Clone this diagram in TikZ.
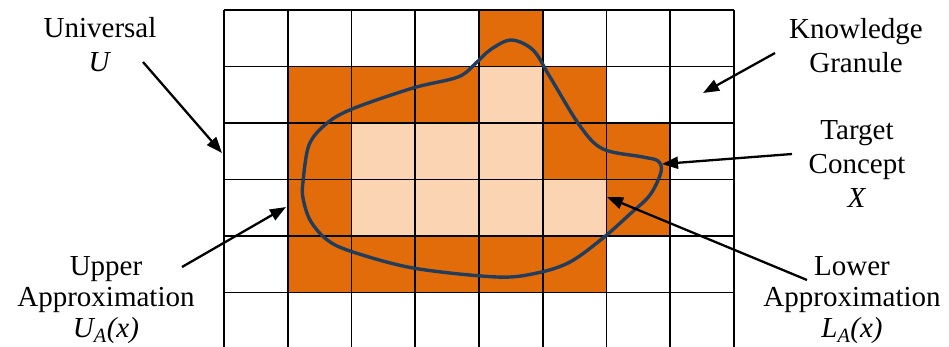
\documentclass[tikz,border=0pt]{standalone}
\usepackage{fontspec}
\setmainfont{Liberation Serif}
\usetikzlibrary{arrows.meta}
\definecolor{darkor}{HTML}{E36C0A}
\definecolor{lightor}{HTML}{FBD4B4}
\definecolor{navy}{HTML}{223D5C}
\tikzset{
  darkcell/.style={fill=darkor},
  lightcell/.style={fill=lightor},
  gridline/.style={line width=1.9pt, black},
  conceptcurve/.style={line width=3.4pt, navy},
  pointer/.style={line width=2.3pt, black, -{Triangle[length=16pt,width=12pt]}},
  lbl/.style={align=center, inner sep=0pt, font=\fontsize{29}{34}\selectfont},
  lblb/.style={align=center, inner sep=0pt, font=\fontsize{29}{31}\selectfont}
}
\newcommand{\cellfill}[3]{\fill[#3] ({224+#1*63.75},{10+#2*56.5}) rectangle ({224+(#1+1)*63.75},{10+(#2+1)*56.5});}
\begin{document}
\begin{tikzpicture}[x=1pt,y=-1pt]
\useasboundingbox (0,0) rectangle (949,346);
\fill[white] (0,0) rectangle (949,346);
% row 0
\cellfill{4}{0}{darkcell}
% row 1
\cellfill{1}{1}{darkcell}\cellfill{2}{1}{darkcell}\cellfill{3}{1}{darkcell}
\cellfill{4}{1}{lightcell}\cellfill{5}{1}{darkcell}
% row 2
\cellfill{1}{2}{darkcell}\cellfill{2}{2}{lightcell}\cellfill{3}{2}{lightcell}
\cellfill{4}{2}{lightcell}\cellfill{5}{2}{darkcell}\cellfill{6}{2}{darkcell}
% row 3
\cellfill{1}{3}{darkcell}\cellfill{2}{3}{lightcell}\cellfill{3}{3}{lightcell}
\cellfill{4}{3}{lightcell}\cellfill{5}{3}{lightcell}\cellfill{6}{3}{darkcell}
% row 4
\cellfill{1}{4}{darkcell}\cellfill{2}{4}{darkcell}\cellfill{3}{4}{darkcell}
\cellfill{4}{4}{darkcell}\cellfill{5}{4}{darkcell}
% grid lines
\foreach \i in {0,...,8} {\draw[gridline] ({224+\i*63.75},10) -- ({224+\i*63.75},350);}
\foreach \j in {0,...,5} {\draw[gridline] (224,{10+\j*56.5}) -- (734,{10+\j*56.5});}
% target concept curve
\draw[conceptcurve] plot[smooth cycle, tension=0.55] coordinates {
(303,182) (309,145) (326,124) (352,109) (413,88) (458,77) (476,63) (490,50)
(511,40) (533,50) (550,77) (580,126) (603,149) (643,157) (658,161) (661,172)
(650,195) (630,214) (603,238) (570,262) (537,273) (497,277) (413,268) (350,251)
(326,239) (310,220) (303,198)};
% labels
\node[lbl] (univ) at (100,45) {Universal\\\textit{U}};
\node[lbl] (know) at (856,46) {Knowledge\\Granule};
\node[lbl] (target) at (857,164) {Target\\Concept\\\textit{X}};
\node[lblb] (upper) at (106,300) {Upper\\Approximation\\\textit{U\textsubscript{A}(x)}};
\node[lblb] (lower) at (852,300) {Lower\\Approximation\\\textit{L\textsubscript{A}(x)}};
% arrow endpoints
\coordinate (uS) at (143,62);  \coordinate (uT) at (222,153);
\coordinate (kS) at (775,53);  \coordinate (kT) at (703,93);
\coordinate (tS) at (792,154); \coordinate (tT) at (662,164);
\coordinate (lS) at (807,280); \coordinate (lT) at (607,197);
\coordinate (pS) at (182,267); \coordinate (pT) at (286,207);
\draw[pointer] (uS) -- (uT);
\draw[pointer] (kS) -- (kT);
\draw[pointer] (tS) -- (tT);
\draw[pointer] (lS) -- (lT);
\draw[pointer] (pS) -- (pT);
\end{tikzpicture}
\end{document}
